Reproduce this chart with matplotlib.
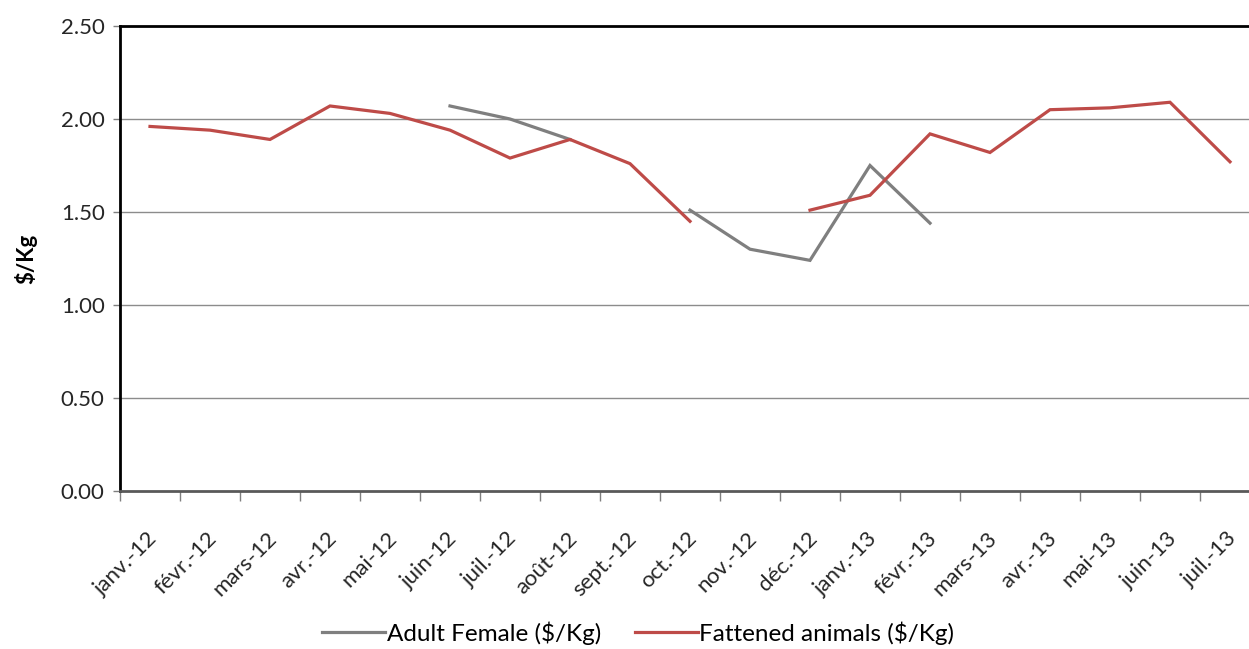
import matplotlib
matplotlib.use("Agg")
import matplotlib.pyplot as plt
from matplotlib.transforms import ScaledTranslation
import numpy as np

months = ["janv.-12", "févr.-12", "mars-12", "avr.-12", "mai-12", "juin-12", "juil.-12",
          "août-12", "sept.-12", "oct.-12", "nov.-12", "déc.-12", "janv.-13", "févr.-13",
          "mars-13", "avr.-13", "mai-13", "juin-13", "juil.-13"]
nan = np.nan
adult_female = [nan, nan, nan, nan, nan, 2.07, 2.00, 1.89, nan, 1.51, 1.30, 1.24, 1.75, 1.44,
                nan, nan, nan, nan, nan]
fattened = [1.96, 1.94, 1.89, 2.07, 2.03, 1.94, 1.79, 1.89, 1.76, 1.45, nan, 1.51, 1.59, 1.92,
            1.82, 2.05, 2.06, 2.09, 1.77]
yticks = [0.0, 0.5, 1.0, 1.5, 2.0, 2.5]

plt.rcParams['font.family'] = ['Lato', 'DejaVu Sans']
fs = 16
W, H = 1249, 649
fig = plt.figure(figsize=(W / 100, H / 100), dpi=100)
left, right, top, bottom = 120, 1260, 26, 491
ax = fig.add_axes([left / W, 1 - bottom / H, (right - left) / W, (bottom - top) / H])

x = np.arange(len(months))
ax.plot(x, adult_female, color='#7f7f7f', lw=2.3, solid_joinstyle='miter', label='Adult Female ($/Kg)')
ax.plot(x, fattened, color='#be4b48', lw=2.3, solid_joinstyle='miter', label='Fattened animals ($/Kg)')

ax.set_xlim(-0.5, len(months) - 0.5)
ax.set_ylim(0, 2.5)
ax.set_yticks(yticks)
ax.set_yticklabels([f"{v:.2f}" for v in yticks], fontsize=fs, color='#262626')
for v in yticks[1:-1]:
    ax.axhline(v, color='#8c8c8c', lw=1.0, zorder=0)

ax.set_xticks(np.arange(len(months)) - 0.5)
ax.set_xticklabels([])
ax.set_xticks(x, minor=True)
ax.set_xticklabels(months, minor=True, rotation=45, ha='right', va='center',
                   rotation_mode='anchor', fontsize=fs, color='#262626')
ax.tick_params(axis='x', which='major', direction='out', length=7, width=1, color='#7f7f7f')
ax.tick_params(axis='x', which='minor', length=0, pad=32)
ax.tick_params(axis='y', direction='out', length=5, width=1, color='#7f7f7f', pad=6)
for lab in ax.get_xticklabels(minor=True):
    lab.set_transform(lab.get_transform() + ScaledTranslation(4 / 100, 0, fig.dpi_scale_trans))

for s in ['left', 'top']:
    ax.spines[s].set_color('black')
    ax.spines[s].set_linewidth(2)
ax.spines['bottom'].set_color('#595959')
ax.spines['bottom'].set_linewidth(2)
ax.spines['right'].set_visible(False)

ax.set_ylabel('$/Kg', fontsize=fs, fontweight='bold', labelpad=17)

fig.legend(loc='center', bbox_to_anchor=(0.511, 1 - 633 / H), ncol=2, frameon=False,
           fontsize=17.5, handlelength=2.6, columnspacing=1.4, handletextpad=0.05)

fig.savefig('out.png', dpi=100)
